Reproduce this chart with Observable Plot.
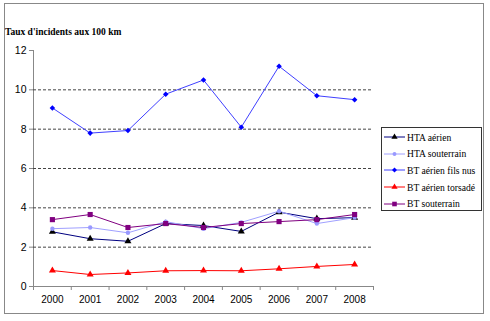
<!DOCTYPE html>
<html><head><meta charset="utf-8">
<script src="https://cdn.jsdelivr.net/npm/d3@7"></script>
<script src="https://cdn.jsdelivr.net/npm/@observablehq/plot@0.6"></script>
<style>
body{margin:0;background:#fff;}
#wrap{position:relative;width:490px;height:321px;overflow:hidden;}
#frame{position:absolute;left:4px;top:3px;width:480px;height:311px;border:1px solid #888;box-sizing:border-box;}
#title{position:absolute;left:5px;top:27px;font-family:"Liberation Serif","Times New Roman",serif;font-weight:bold;font-size:9.5px;color:#000;white-space:nowrap;}
#legend{position:absolute;left:381px;top:127px;width:101px;height:84px;border:1px solid #333;box-sizing:border-box;background:#fff;padding-top:1px;}
.li{display:flex;align-items:center;height:16.6px;font-family:"Liberation Serif","Times New Roman",serif;font-size:9.6px;letter-spacing:0;color:#000;white-space:nowrap;}
.li svg{margin-left:2px;margin-right:2px;}
#chart{position:absolute;left:0;top:0;}
</style></head>
<body>
<div id="wrap"><div id="frame"></div><div id="chart"></div><div id="title">Taux d'incidents aux 100 km</div><div id="legend"></div></div>
<script>
const years = [2000,2001,2002,2003,2004,2005,2006,2007,2008];
const yTicks = [0,2,4,6,8,10,12];
const gridValues = [2,4,6,8,10];
const seriesNames = ["HTA aérien","HTA souterrain","BT aérien fils nus","BT aérien torsadé","BT souterrain"];
const htaAerien = [2.78,2.43,2.3,3.2,3.1,2.8,3.78,3.45,3.5];
const htaSouterrain = [2.94,3.0,2.73,3.3,2.94,3.26,3.83,3.2,3.5];
const btFilsNus = [9.08,7.8,7.93,9.78,10.5,8.1,11.2,9.7,9.5];
const btTorsade = [0.81,0.61,0.69,0.8,0.81,0.8,0.9,1.02,1.12];
const btSouterrain = [3.4,3.66,3.0,3.2,3.0,3.2,3.3,3.4,3.66];
const lineColors = ["#000080","#a0a0ff","#4040ff","#ff0000","#800080"];
const markColors = ["#000000","#9999ff","#0000ff","#ff0000","#800080"];
const symbols = ["triangle","circle","diamond2","triangle","square"];
const sizes = [2.6,2.2,2.5,2.6,2.9];

const values = [htaAerien,htaSouterrain,btFilsNus,btTorsade,btSouterrain];
const data = [];
seriesNames.forEach((s,i)=>years.forEach((y,j)=>data.push({series:s,idx:i,year:y,value:values[i][j]})));
const boundaries = years.map(y=>y-0.5).concat([years[years.length-1]+0.5]);

const marks = [
  Plot.ruleY(gridValues,{stroke:"#444",strokeDasharray:"3,2",strokeWidth:1}),
  Plot.text(yTicks,{x:years[0]-0.5,y:d=>d,text:d=>String(d),dx:-7,textAnchor:"end",fontSize:10.5,fill:"#000"}),
  Plot.text(years,{x:d=>d,y:0,text:d=>String(d),dy:13,fontSize:10,fill:"#000"})
];
seriesNames.forEach((s,i)=>{
  const d = data.filter(r=>r.idx===i);
  marks.push(Plot.line(d,{x:"year",y:"value",stroke:lineColors[i],strokeWidth:1}));
});
seriesNames.forEach((s,i)=>{
  const d = data.filter(r=>r.idx===i);
  marks.push(Plot.dot(d,{x:"year",y:"value",symbol:()=>symbols[i],fill:markColors[i],stroke:"none",r:sizes[i]}));
});

const chart = Plot.plot({
  width:490,height:321,
  marginLeft:33,marginRight:117,marginTop:50,marginBottom:35,
  style:{background:"transparent",color:"#888",fontFamily:"'Liberation Sans',Arial,sans-serif"},
  x:{type:"linear",domain:[years[0]-0.5,years[years.length-1]+0.5],ticks:boundaries,tickFormat:()=>"",tickSize:4,line:true,label:null},
  y:{domain:[0,12],ticks:yTicks,tickFormat:()=>"",tickSize:4,line:true,label:null},
  symbol:{type:"identity"},
  marks
});
document.getElementById("chart").appendChild(chart);

const symMap = {triangle:d3.symbolTriangle,circle:d3.symbolCircle,diamond2:d3.symbolDiamond2,square:d3.symbolSquare};
const leg = d3.select("#legend");
seriesNames.forEach((s,i)=>{
  const row = leg.append("div").attr("class","li");
  const svg = row.append("svg").attr("width",21).attr("height",10);
  svg.append("line").attr("x1",0).attr("x2",21).attr("y1",5).attr("y2",5).attr("stroke",lineColors[i]).attr("stroke-width",1);
  svg.append("path").attr("transform","translate(10.5,5)").attr("fill",markColors[i])
    .attr("d",d3.symbol().type(symMap[symbols[i]]).size(Math.PI*sizes[i]*sizes[i]*0.8)());
  row.append("span").text(s);
});
</script>
</body></html>
